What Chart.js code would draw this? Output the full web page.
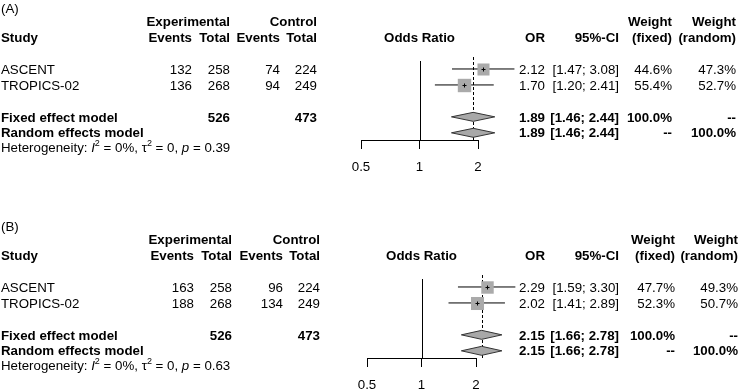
<!DOCTYPE html>
<html>
<head>
<meta charset="utf-8">
<script src="https://cdn.jsdelivr.net/npm/chart.js@4.4.1/dist/chart.umd.min.js"></script>
<style>
  html, body { margin: 0; padding: 0; background: #fff; }
  #wrap { position: relative; width: 739px; height: 390px; }
  canvas { position: absolute; left: 0; }
</style>
</head>
<body>
<div id="wrap">
  <canvas id="panelA" width="739" height="172" style="top:0px"></canvas>
  <canvas id="panelB" width="739" height="172" style="top:218px"></canvas>
</div>
<script>
const FONT = '"Liberation Sans", Arial, Helvetica, sans-serif';
const FS = 13.3;

const studies = ['ASCENT', 'TROPICS-02'];
const xTicks = [0.5, 1, 2];
const studyRows = [1, 2];
const fixedRow = 4;
const randomRow = 5;

// panel A
const expEventsA = [132, 136];
const expTotalA = [258, 268];
const ctrlEventsA = [74, 94];
const ctrlTotalA = [224, 249];
const orA = [2.12, 1.70];
const loA = [1.47, 1.20];
const hiA = [3.08, 2.41];
const wFixedA = [44.6, 55.4];
const wRandomA = [47.3, 52.7];
const pooledA = [1.89, 1.46, 2.44];   // est, lo, hi (fixed and random identical)
const hetPA = '0.39';

// panel B
const expEventsB = [163, 188];
const expTotalB = [258, 268];
const ctrlEventsB = [96, 134];
const ctrlTotalB = [224, 249];
const orB = [2.29, 2.02];
const loB = [1.59, 1.41];
const hiB = [3.30, 2.89];
const wFixedB = [47.7, 52.3];
const wRandomB = [49.3, 50.7];
const pooledB = [2.15, 1.66, 2.78];
const hetPB = '0.63';

const expTotal = 526, ctrlTotal = 473;

function txt(ctx, s, x, y, align, bold, italic, size) {
  ctx.font = (italic ? 'italic ' : '') + (bold ? 'bold ' : '') + (size || FS) + 'px ' + FONT;
  ctx.textAlign = align || 'left';
  ctx.textBaseline = 'middle';
  ctx.fillStyle = '#000';
  ctx.fillText(s, x, y);
  return ctx.measureText(s).width;
}

function makeForestPlugin(p) {
  return {
    id: 'forest',
    beforeDatasetsDraw(chart) {
      const ctx = chart.ctx, area = chart.chartArea, x = chart.scales.x;
      ctx.save();
      ctx.strokeStyle = '#000';
      ctx.lineWidth = 1;
      // line of no effect
      const x1 = Math.round(x.getPixelForValue(1)) + 0.5;
      ctx.beginPath();
      ctx.moveTo(x1, area.top);
      ctx.lineTo(x1, area.bottom);
      ctx.stroke();
      // pooled estimate
      const xp = Math.round(x.getPixelForValue(p.pooled[0])) + 0.5;
      ctx.setLineDash([3, 2]);
      ctx.beginPath();
      ctx.moveTo(xp, area.top - 4);
      ctx.lineTo(xp, area.bottom);
      ctx.stroke();
      ctx.restore();
    },
    afterDatasetsDraw(chart) {
      const ctx = chart.ctx, x = chart.scales.x, y = chart.scales.y;
      ctx.save();
      ctx.lineWidth = 1;
      // study squares (size by fixed weight) with a small cross at the estimate
      p.or.forEach((v, i) => {
        const cx = Math.round(x.getPixelForValue(v)) + 0.5;
        const cy = Math.round(y.getPixelForValue(studyRows[i])) + 0.5;
        const h = 0.9 * Math.sqrt(p.wFixed[i]);
        ctx.fillStyle = '#aaaaaa';
        ctx.fillRect(cx - h, cy - h, 2 * h, 2 * h);
        ctx.strokeStyle = '#000';
        ctx.beginPath();
        ctx.moveTo(cx - 2, cy); ctx.lineTo(cx + 2, cy);
        ctx.moveTo(cx, cy - 2); ctx.lineTo(cx, cy + 2);
        ctx.stroke();
      });
      // summary diamonds
      [fixedRow, randomRow].forEach(row => {
        const cy = y.getPixelForValue(row);
        const xe = x.getPixelForValue(p.pooled[0]);
        const xl = x.getPixelForValue(p.pooled[1]);
        const xh = x.getPixelForValue(p.pooled[2]);
        ctx.beginPath();
        ctx.moveTo(xl, cy);
        ctx.lineTo(xe, cy - 4.5);
        ctx.lineTo(xh, cy);
        ctx.lineTo(xe, cy + 4.5);
        ctx.closePath();
        ctx.fillStyle = '#a8a8a8';
        ctx.fill();
        ctx.strokeStyle = '#333';
        ctx.stroke();
      });
      ctx.restore();
    },
    afterDraw(chart) {
      const ctx = chart.ctx, y = chart.scales.y, area = chart.chartArea;
      const c = p.cols;
      ctx.save();
      txt(ctx, p.label, 1, 9, 'left', false);
      // headers
      txt(ctx, 'Experimental', c.expTot, 22, 'right', true);
      txt(ctx, 'Control', c.ctrlTot, 22, 'right', true);
      txt(ctx, 'Weight', c.wf, 22, 'right', true);
      txt(ctx, 'Weight', c.wr, 22, 'right', true);
      txt(ctx, 'Study', 1, 38, 'left', true);
      txt(ctx, 'Events', c.expEv, 38, 'right', true);
      txt(ctx, 'Total', c.expTot, 38, 'right', true);
      txt(ctx, 'Events', c.ctrlEv, 38, 'right', true);
      txt(ctx, 'Total', c.ctrlTot, 38, 'right', true);
      txt(ctx, 'Odds Ratio', (area.left + area.right) / 2, 38, 'center', true);
      txt(ctx, 'OR', c.or, 38, 'right', true);
      txt(ctx, '95%-CI', c.ci, 38, 'right', true);
      txt(ctx, '(fixed)', c.wf, 38, 'right', true);
      txt(ctx, '(random)', c.wr, 38, 'right', true);
      // study rows
      studies.forEach((s, i) => {
        const ty = y.getPixelForValue(studyRows[i]) + 1;
        txt(ctx, s, 1, ty, 'left', false);
        txt(ctx, String(p.expEvents[i]), c.expEv, ty, 'right', false);
        txt(ctx, String(p.expTotal[i]), c.expTot, ty, 'right', false);
        txt(ctx, String(p.ctrlEvents[i]), c.ctrlEv, ty, 'right', false);
        txt(ctx, String(p.ctrlTotal[i]), c.ctrlTot, ty, 'right', false);
        txt(ctx, p.or[i].toFixed(2), c.or, ty, 'right', false);
        txt(ctx, '[' + p.lo[i].toFixed(2) + '; ' + p.hi[i].toFixed(2) + ']', c.ci, ty, 'right', false);
        txt(ctx, p.wFixed[i].toFixed(1) + '%', c.wf, ty, 'right', false);
        txt(ctx, p.wRandom[i].toFixed(1) + '%', c.wr, ty, 'right', false);
      });
      // summary rows
      const ci = '[' + p.pooled[1].toFixed(2) + '; ' + p.pooled[2].toFixed(2) + ']';
      let ty = y.getPixelForValue(fixedRow) + 1;
      txt(ctx, 'Fixed effect model', 1, ty, 'left', true);
      txt(ctx, String(expTotal), c.expTot, ty, 'right', true);
      txt(ctx, String(ctrlTotal), c.ctrlTot, ty, 'right', true);
      txt(ctx, p.pooled[0].toFixed(2), c.or, ty, 'right', true);
      txt(ctx, ci, c.ci, ty, 'right', true);
      txt(ctx, '100.0%', c.wf, ty, 'right', true);
      txt(ctx, '--', c.wr, ty, 'right', true);
      ty = y.getPixelForValue(randomRow) + 1;
      txt(ctx, 'Random effects model', 1, ty, 'left', true);
      txt(ctx, p.pooled[0].toFixed(2), c.or, ty, 'right', true);
      txt(ctx, ci, c.ci, ty, 'right', true);
      txt(ctx, '--', c.wf, ty, 'right', true);
      txt(ctx, '100.0%', c.wr, ty, 'right', true);
      // heterogeneity
      const hy = 148;
      let hx = 1;
      hx += txt(ctx, 'Heterogeneity: ', hx, hy, 'left', false);
      hx += txt(ctx, 'I', hx, hy, 'left', false, true);
      hx += txt(ctx, '2', hx, hy - 4, 'left', false, false, 9);
      hx += txt(ctx, ' = 0%, \u03c4', hx, hy, 'left', false);
      hx += txt(ctx, '2', hx, hy - 4, 'left', false, false, 9);
      hx += txt(ctx, ' = 0, ', hx, hy, 'left', false);
      hx += txt(ctx, 'p', hx, hy, 'left', false, true);
      txt(ctx, ' = ' + p.hetP, hx, hy, 'left', false);
      ctx.restore();
    }
  };
}

function makePanel(id, p) {
  const ciSets = studies.map((s, i) => ({
    type: 'line',
    data: [{ x: p.lo[i], y: studyRows[i] }, { x: p.hi[i], y: studyRows[i] }],
    borderColor: '#000',
    borderWidth: 1,
    pointRadius: 0,
    fill: false,
    clip: false
  }));
  return new Chart(document.getElementById(id), {
    type: 'line',
    data: { datasets: ciSets },
    options: {
      responsive: false,
      animation: false,
      devicePixelRatio: 1,
      events: [],
      layout: { padding: { left: p.left, right: 739 - p.right, top: 61, bottom: 0 } },
      plugins: { legend: { display: false }, tooltip: { enabled: false } },
      scales: {
        x: {
          type: 'logarithmic',
          min: 0.5,
          max: 2,
          afterBuildTicks: s => { s.ticks = xTicks.map(v => ({ value: v })); },
          afterFit: s => { s.height = 32; },
          grid: { drawOnChartArea: false, drawTicks: true, tickLength: 9, color: '#000', lineWidth: 1 },
          border: { display: true, color: '#000', width: 1 },
          ticks: { color: '#000', font: { family: FONT, size: FS }, padding: 10, autoSkip: false, maxRotation: 0, callback: v => String(v) }
        },
        y: { type: 'linear', min: 0.5, max: 5.45, reverse: true, display: false }
      }
    },
    plugins: [makeForestPlugin(p)]
  });
}

makePanel('panelA', {
  label: '(A)', left: 361, right: 478,
  expEvents: expEventsA, expTotal: expTotalA, ctrlEvents: ctrlEventsA, ctrlTotal: ctrlTotalA,
  or: orA, lo: loA, hi: hiA, wFixed: wFixedA, wRandom: wRandomA, pooled: pooledA, hetP: hetPA,
  cols: { expEv: 192, expTot: 230, ctrlEv: 280, ctrlTot: 317, or: 545, ci: 619, wf: 672, wr: 736 }
});

makePanel('panelB', {
  label: '(B)', left: 367, right: 476,
  expEvents: expEventsB, expTotal: expTotalB, ctrlEvents: ctrlEventsB, ctrlTotal: ctrlTotalB,
  or: orB, lo: loB, hi: hiB, wFixed: wFixedB, wRandom: wRandomB, pooled: pooledB, hetP: hetPB,
  cols: { expEv: 194, expTot: 232, ctrlEv: 283, ctrlTot: 320, or: 545, ci: 619, wf: 675, wr: 738 }
});
</script>
</body>
</html>
